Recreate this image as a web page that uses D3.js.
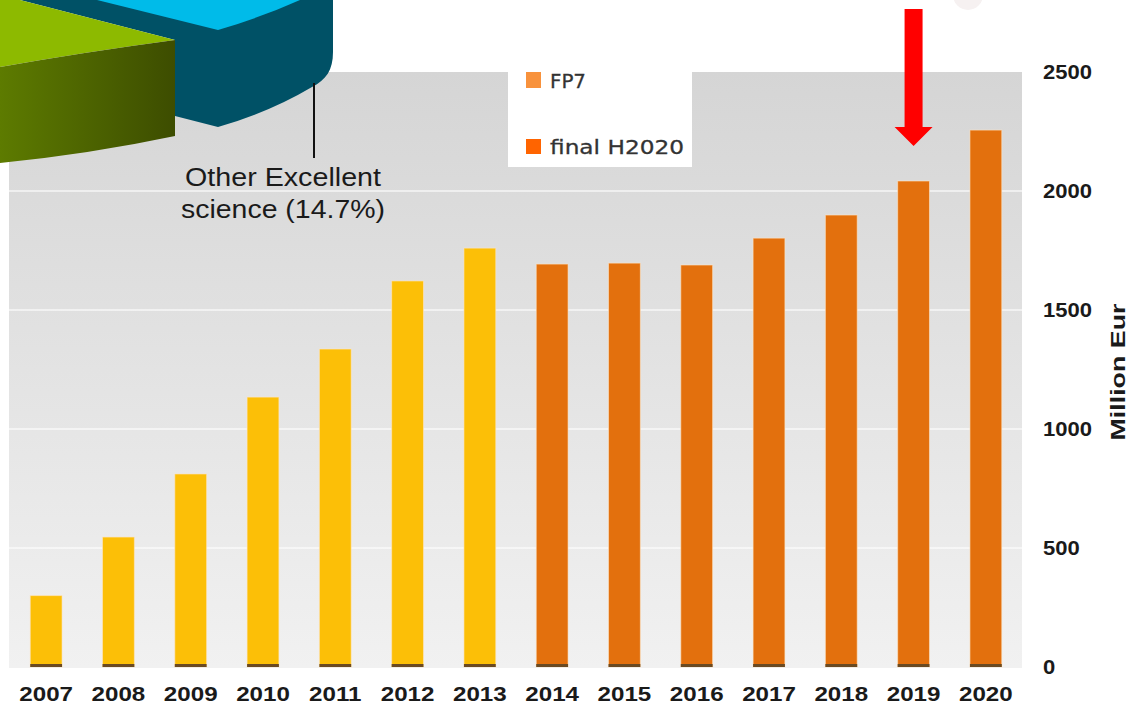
<!DOCTYPE html>
<html>
<head>
<meta charset="utf-8">
<script src="https://cdn.jsdelivr.net/npm/d3@7/dist/d3.min.js"></script>
<style>
  html, body { margin: 0; padding: 0; background: #ffffff; }
  svg { display: block; }
</style>
</head>
<body>
<svg id="chart" width="1136" height="705"></svg>
<script>
// ---------------- data ----------------
const years = ["2007","2008","2009","2010","2011","2012","2013","2014","2015","2016","2017","2018","2019","2020"];
const values = [300, 546, 811, 1134, 1336, 1622, 1760, 1693, 1697, 1689, 1802, 1899, 2042, 2256];
const programmes = ["FP7","FP7","FP7","FP7","FP7","FP7","FP7",
                    "final H2020","final H2020","final H2020","final H2020","final H2020","final H2020","final H2020"];
const legendLabels = ["FP7", "final H2020"];
const yTicks = [0, 500, 1000, 1500, 2000, 2500];
const gridTicks = [500, 1000, 1500, 2000];
const yTitle = "Million Eur";
const annotationLines = ["Other Excellent", "science (14.7%)"];
const highlightYear = "2019";

// ---------------- setup ----------------
const svg = d3.select("#chart");
const plot = { left: 9, right: 1022, top: 72, bottom: 668 };

const x = d3.scaleBand().domain(years).range([plot.left + 1, plot.right])
  .paddingInner(0.56).paddingOuter(0.28);
const y = d3.scaleLinear().domain([0, 2500]).range([667, 72]);

const barColor = d3.scaleOrdinal().domain(legendLabels).range(["#fcbf07", "#e3700d"]);
const legendColor = d3.scaleOrdinal().domain(legendLabels).range(["#f8923c", "#ff6400"]);

const defs = svg.append("defs");
const bg = defs.append("linearGradient").attr("id", "bg").attr("x1", 0).attr("y1", 0).attr("x2", 0).attr("y2", 1);
bg.append("stop").attr("offset", "0%").attr("stop-color", "#d5d5d5");
bg.append("stop").attr("offset", "100%").attr("stop-color", "#f1f1f1");
const olive = defs.append("linearGradient").attr("id", "olive").attr("x1", 0).attr("y1", 0).attr("x2", 1).attr("y2", 0);
olive.append("stop").attr("offset", "0%").attr("stop-color", "#5d7b00");
olive.append("stop").attr("offset", "100%").attr("stop-color", "#3d4d00");

function fitWidth(sel, factor) {
  sel.each(function () {
    const w = this.getComputedTextLength();
    d3.select(this).attr("textLength", w * factor).attr("lengthAdjust", "spacingAndGlyphs");
  });
}

// plot background
svg.append("rect").attr("x", plot.left).attr("y", plot.top)
  .attr("width", plot.right - plot.left).attr("height", plot.bottom - plot.top)
  .attr("fill", "url(#bg)");

// gridlines
svg.append("g").selectAll("line").data(gridTicks).join("line")
  .attr("x1", plot.left).attr("x2", plot.right)
  .attr("y1", d => y(d)).attr("y2", d => y(d))
  .attr("stroke", "#ffffff").attr("stroke-opacity", 0.75).attr("stroke-width", 1.6);

// bars
const bars = svg.append("g");
bars.selectAll("rect.bar").data(years).join("rect").attr("class", "bar")
  .attr("x", d => x(d)).attr("width", x.bandwidth())
  .attr("y", (d, i) => y(values[i])).attr("height", (d, i) => y(0) - y(values[i]))
  .attr("fill", (d, i) => barColor(programmes[i]))
  .attr("stroke", "#fde6c8").attr("stroke-opacity", 0.6).attr("stroke-width", 1);
bars.selectAll("rect.base").data(years).join("rect").attr("class", "base")
  .attr("x", d => x(d)).attr("width", x.bandwidth())
  .attr("y", y(0) - 3).attr("height", 3)
  .attr("fill", "#6a4a22");

// x axis labels
const xAxis = svg.append("g").attr("transform", "translate(0,686)")
  .call(d3.axisBottom(x).tickSize(0).tickPadding(0));
xAxis.select(".domain").remove();
xAxis.selectAll("text")
  .attr("dy", "0.71em")
  .attr("font-family", "'Liberation Sans', Arial, sans-serif")
  .attr("font-weight", "bold").attr("font-size", 21).attr("fill", "#1a1a1a");
fitWidth(xAxis.selectAll("text"), 1.15);

// y axis (right)
const yAxis = svg.append("g").attr("transform", "translate(1043,0)")
  .call(d3.axisRight(y).tickValues(yTicks).tickSize(0).tickPadding(0).tickFormat(d3.format("d")));
yAxis.select(".domain").remove();
yAxis.selectAll("text")
  .attr("font-family", "'Liberation Sans', Arial, sans-serif")
  .attr("font-weight", "bold").attr("font-size", 19.5).attr("fill", "#1a1a1a")
  .attr("text-anchor", "start");
fitWidth(yAxis.selectAll("text"), 1.13);

// y title
svg.append("text")
  .attr("transform", "translate(1125,372) rotate(-90)")
  .attr("text-anchor", "middle")
  .attr("font-family", "'Liberation Sans', Arial, sans-serif")
  .attr("font-weight", "bold").attr("font-size", 21).attr("fill", "#1a1a1a")
  .attr("textLength", 137).attr("lengthAdjust", "spacingAndGlyphs")
  .text(yTitle);

// legend box
svg.append("rect").attr("x", 508).attr("y", 58).attr("width", 184).attr("height", 109).attr("fill", "#ffffff");
const lg = svg.append("g").selectAll("g").data(legendLabels).join("g")
  .attr("transform", (d, i) => `translate(526,${[72, 139][i]})`);
lg.append("rect").attr("width", 15).attr("height", (d, i) => [16, 15][i]).attr("fill", d => legendColor(d));
lg.append("text").attr("x", 24).attr("y", (d, i) => [16, 15][i])
  .attr("font-family", "'DejaVu Sans', Verdana, sans-serif").attr("font-size", 20)
  .attr("fill", "#333333").attr("stroke", "#333333").attr("stroke-width", 0.3)
  .attr("textLength", (d, i) => [36, 134][i]).attr("lengthAdjust", "spacingAndGlyphs")
  .text(d => d);

// ---- decorative 3D pie fragment (top-left) ----
const pie = svg.append("g");
pie.append("path").attr("fill", "#005166")
  .attr("d", "M20,0 L333,0 L333,52 C333,70 326,80 312,87 Q270,112 218,127 L175,116 L175,40 Z");
pie.append("path").attr("fill", "#00bbe9")
  .attr("d", "M97,0 L218,30 Q262,17 300,0 Z");
pie.append("path").attr("fill", "#8dba00")
  .attr("d", "M0,0 L20,0 L175,40 Q85,52 0,67 Z");
pie.append("path").attr("fill", "url(#olive)")
  .attr("d", "M175,40 L175,136 Q90,154 0,163 L0,67 Q85,52 175,40 Z");

// annotation leader + text
svg.append("line").attr("x1", 314).attr("x2", 314).attr("y1", 83).attr("y2", 158)
  .attr("stroke", "#111").attr("stroke-width", 2);
svg.append("g").selectAll("text").data(annotationLines).join("text")
  .attr("x", 283).attr("y", (d, i) => 186 + i * 32)
  .attr("text-anchor", "middle")
  .attr("font-family", "'Liberation Sans', Arial, sans-serif")
  .attr("font-size", 25).attr("fill", "#1a1a1a")
  .attr("textLength", (d, i) => [196, 204][i]).attr("lengthAdjust", "spacingAndGlyphs")
  .text(d => d);

// faint circle at top
svg.append("circle").attr("cx", 968).attr("cy", -5).attr("r", 15).attr("fill", "#f6f1f1");

// red arrow pointing at highlighted year
const ax = x(highlightYear) + x.bandwidth() / 2;
svg.append("path").attr("fill", "#ff0000")
  .attr("d", `M${ax - 9},9 L${ax + 9},9 L${ax + 9},127 L${ax + 19},127 L${ax},146 L${ax - 19},127 L${ax - 9},127 Z`);
</script>
</body>
</html>
